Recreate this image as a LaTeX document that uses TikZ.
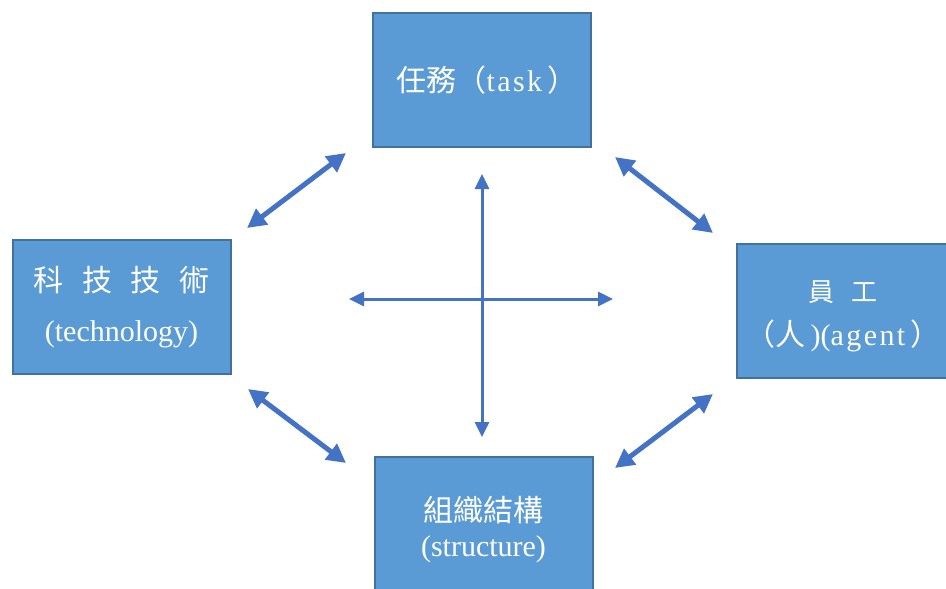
\documentclass[tikz,border=0pt]{standalone}
\usepackage{fontspec}
\setmainfont{Liberation Serif}
\newfontfamily\cjk[WordSpace=2.8]{Noto Sans CJK TC}
\newfontfamily\wide[LetterSpace=8]{Liberation Serif}
\newcommand{\zh}[1]{{\cjk #1}}
\definecolor{boxblue}{RGB}{91,155,213}
\definecolor{boxedge}{RGB}{65,113,156}
\definecolor{arrblue}{RGB}{68,114,196}
\usetikzlibrary{arrows.meta}

\begin{document}
\begin{tikzpicture}[x=1pt,y=-1pt,
  part/.style={draw=boxedge,line width=2pt,fill=boxblue,minimum width=218pt,
    minimum height=134pt,inner sep=0pt},
  word/.style={text=white,align=center,font=\fontsize{30}{36}\selectfont,inner sep=0pt},
  link/.style={{Triangle[length=19pt,width=19pt]}-{Triangle[length=19pt,width=19pt]},
    line width=5pt,arrblue},
  axisarrow/.style={{Triangle[length=15pt,width=14pt]}-{Triangle[length=15pt,width=14pt]},
    line width=3pt,arrblue}
]
  \clip (0,0) rectangle (946,589);
  % four boxes
  \node[part] (task) at (482,80) {};
  \node[word] (taskt) at (487,80) {\zh{任務（}{\wide task}\,\zh{）}};
  \node[part] (tech) at (121.5,307) {};
  \node[word] (techt) at (121.5,307) {\zh{科 技 技 術}\\[14pt](technology)};
  \node[part] (agent) at (846,311) {};
  \node[word] (agentt) at (843,316)
    {{\fontsize{26}{30}\selectfont\zh{員 工}}\\[8pt]\zh{（人}\,)({\wide agent}\,\zh{）}};
  \node[part] (struct) at (483.5,524) {};
  \node[word] (structt) at (483.5,529.5) {\zh{組織結構}\\[-1pt](structure)};
  % arrow ends
  \coordinate (ul1) at (247,228);
  \coordinate (ul2) at (346,153);
  \coordinate (ur1) at (615,157);
  \coordinate (ur2) at (713,233);
  \coordinate (ll1) at (248,389);
  \coordinate (ll2) at (346,463);
  \coordinate (lr1) at (615,468);
  \coordinate (lr2) at (713,394);
  \draw[link] (ul1) -- (ul2);
  \draw[link] (ur1) -- (ur2);
  \draw[link] (ll1) -- (ll2);
  \draw[link] (lr1) -- (lr2);
  % central cross
  \coordinate (up) at (482,174);
  \coordinate (down) at (482,437);
  \coordinate (left) at (349,299);
  \coordinate (right) at (613,299);
  \draw[axisarrow] (up) -- (down);
  \draw[axisarrow] (left) -- (right);
\end{tikzpicture}
\end{document}
